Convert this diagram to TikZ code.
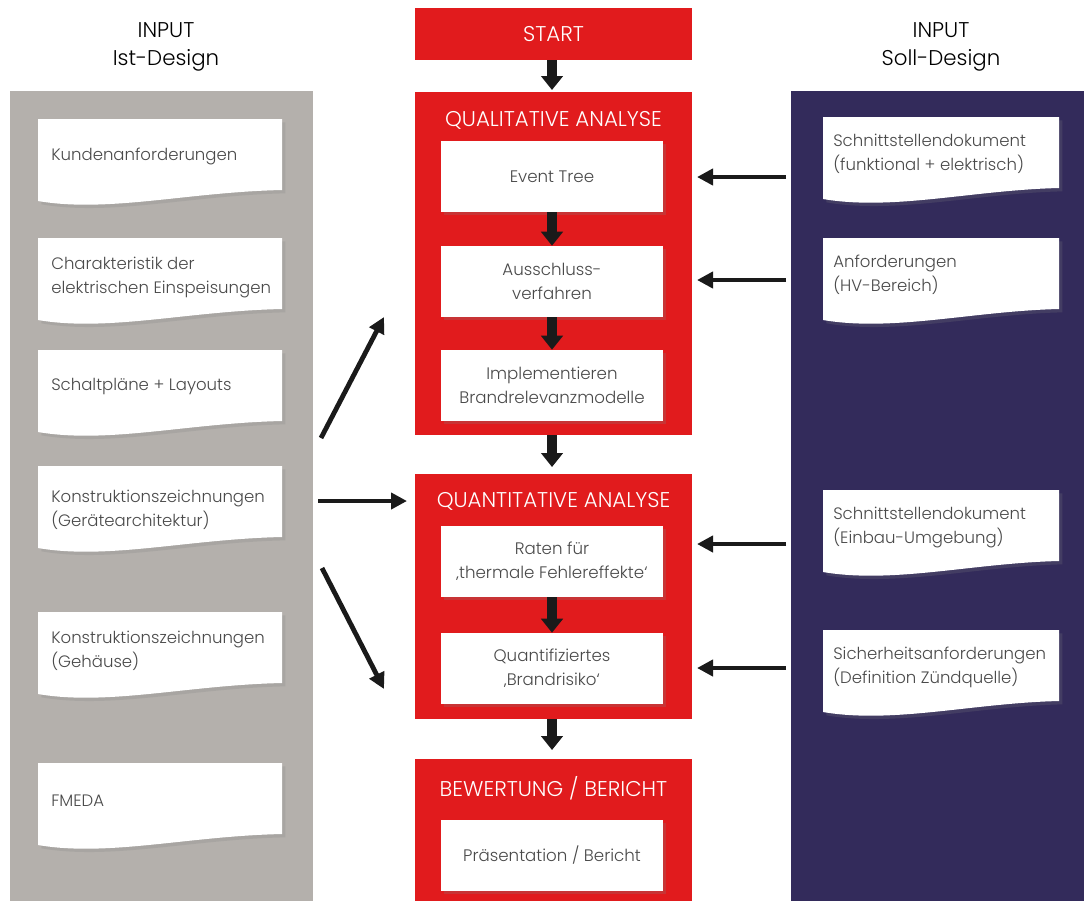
\documentclass[tikz,border=0pt]{standalone}
\usepackage{fontspec}
\setmainfont{Poppins}[UprightFont=* Light]
\usetikzlibrary{shadows,arrows.meta}
\definecolor{redc}{HTML}{E11B1D}
\definecolor{grayp}{HTML}{B4B0AC}
\definecolor{navyp}{HTML}{332B5B}
\definecolor{arrc}{HTML}{1A1A1A}
\definecolor{txtc}{HTML}{4A4A4A}
\tikzset{
  redbox/.style={fill=redc, draw=none},
  heading/.style={text=white, font=\fontsize{16}{19}\selectfont},
  inhead/.style={text=black, font=\fontsize{16}{21}\selectfont, align=center},
  wbox/.style={fill=white, draw=none, minimum width=166.5pt, minimum height=53.25pt,
    align=center, text=txtc, font=\fontsize{12.5}{18}\selectfont,
    drop shadow={opacity=0.25, shadow xshift=2.5pt, shadow yshift=-2.5pt}},
  doctext/.style={anchor=west, align=left, text=txtc, font=\fontsize{12.4}{18}\selectfont, inner sep=0pt},
  docshape/.style={fill=white, draw=none, drop shadow={opacity=0.22, shadow xshift=2.5pt, shadow yshift=-2.5pt}},
  blockarrow/.style={draw=arrc, line width=7.5pt, -{Triangle[width=16pt, length=10.5pt]}},
  sidearrow/.style={draw=arrc, line width=3.6pt, -{Triangle[width=12pt, length=12pt]}},
}
\newcommand\mydoc[3]{%
  \path[docshape] (#1,#3) -- (#2,#3) -- (#2,{#3+71})
    .. controls ({#1+150},{#3+73}) and ({#1+70},{#3+94}) .. (#1,{#3+82}) -- cycle;}
\begin{document}
\begin{tikzpicture}[x=0.75pt,y=-0.75pt]
\useasboundingbox (0,0) rectangle (1084,901);
\fill[white] (0,0) rectangle (1084,901);
% panels
\fill[grayp] (10,91) rectangle (313,901);
\fill[navyp] (791,91) rectangle (1084,901);
% input headings
\node[inhead] (inL) at (166,47) {INPUT\\Ist-Design};
\node[inhead] (inR) at (941,47) {INPUT\\Soll-Design};
% left documents
\mydoc{38}{282}{119}
\mydoc{38}{282}{238}
\mydoc{38}{282}{350}
\mydoc{38}{282}{466}
\mydoc{38}{282}{612}
\mydoc{38}{282}{763}
\node[doctext] (l1) at (51,156) {Kundenanforderungen};
\node[doctext] (l2) at (51,277) {Charakteristik der\\elektrischen Einspeisungen};
\node[doctext] (l3) at (51,387) {Schaltpläne + Layouts};
\node[doctext] (l4) at (51,510) {Konstruktionszeichnungen\\(Gerätearchitektur)};
\node[doctext] (l5) at (51,651) {Konstruktionszeichnungen\\(Gehäuse)};
\node[doctext] (l6) at (51,801) {FMEDA};
% right documents
\mydoc{823}{1059}{117}
\mydoc{823}{1059}{238}
\mydoc{823}{1059}{490}
\mydoc{823}{1059}{630}
\node[doctext] (r1) at (833,154) {Schnittstellendokument\\(funktional + elektrisch)};
\node[doctext] (r2) at (833,275) {Anforderungen\\(HV-Bereich)};
\node[doctext] (r3) at (833,527) {Schnittstellendokument\\(Einbau-Umgebung)};
\node[doctext] (r4) at (833,667) {Sicherheitsanforderungen\\(Definition Zündquelle)};
% red boxes
\fill[redbox] (415,8) rectangle (692,60);
\node[heading] (start) at (553.5,34) {START};
\fill[redbox] (415,92) rectangle (692,435);
\node[heading] (qual) at (553.5,120) {QUALITATIVE ANALYSE};
\fill[redbox] (415,474) rectangle (692,719);
\node[heading] (quant) at (553.5,501) {QUANTITATIVE ANALYSE};
\fill[redbox] (415,759) rectangle (692,901);
\node[heading] (bew) at (553.5,788) {BEWERTUNG / BERICHT};
\coordinate (startB) at (552,60);
\coordinate (qualT) at (552,90);
\coordinate (qualB) at (552,435);
\coordinate (quantT) at (552,467);
\coordinate (quantB) at (552,719);
\coordinate (bewT) at (552,750);
% white boxes
\node[wbox] (et) at (552,176.5) {Event Tree};
\node[wbox] (aus) at (552,281.5) {Ausschluss-\\verfahren};
\node[wbox] (imp) at (552,385.5) {Implementieren\\Brandrelevanzmodelle};
\node[wbox] (rat) at (552,561.5) {Raten für\\‚thermale Fehlereffekte‘};
\node[wbox] (qrisk) at (552,668.5) {Quantifiziertes\\‚Brandrisiko‘};
\node[wbox] (pres) at (552,855.5) {Präsentation / Bericht};
% vertical arrows
\draw[blockarrow] (startB) -- (qualT);
\draw[blockarrow] (et.south) -- (aus.north);
\draw[blockarrow] (aus.south) -- (imp.north);
\draw[blockarrow] (qualB) -- (quantT);
\draw[blockarrow] (rat.south) -- (qrisk.north);
\draw[blockarrow] (quantB) -- (bewT);
% right side arrows
\coordinate (a1) at (786,177);
\coordinate (a2) at (786,280);
\coordinate (a3) at (786,544);
\coordinate (a4) at (786,668);
\coordinate (b1) at (697,177);
\coordinate (b2) at (697,280);
\coordinate (b3) at (697,544);
\coordinate (b4) at (697,668);
\draw[sidearrow] (a1) -- (b1);
\draw[sidearrow] (a2) -- (b2);
\draw[sidearrow] (a3) -- (b3);
\draw[sidearrow] (a4) -- (b4);
% left side arrows
\coordinate (c1) at (321,438);
\coordinate (d1) at (384,317);
\coordinate (c2) at (318,501);
\coordinate (d2) at (407,501);
\coordinate (c3) at (322,568);
\coordinate (d3) at (384,689);
\draw[sidearrow] (c1) -- (d1);
\draw[sidearrow] (c2) -- (d2);
\draw[sidearrow] (c3) -- (d3);
\end{tikzpicture}
\end{document}
